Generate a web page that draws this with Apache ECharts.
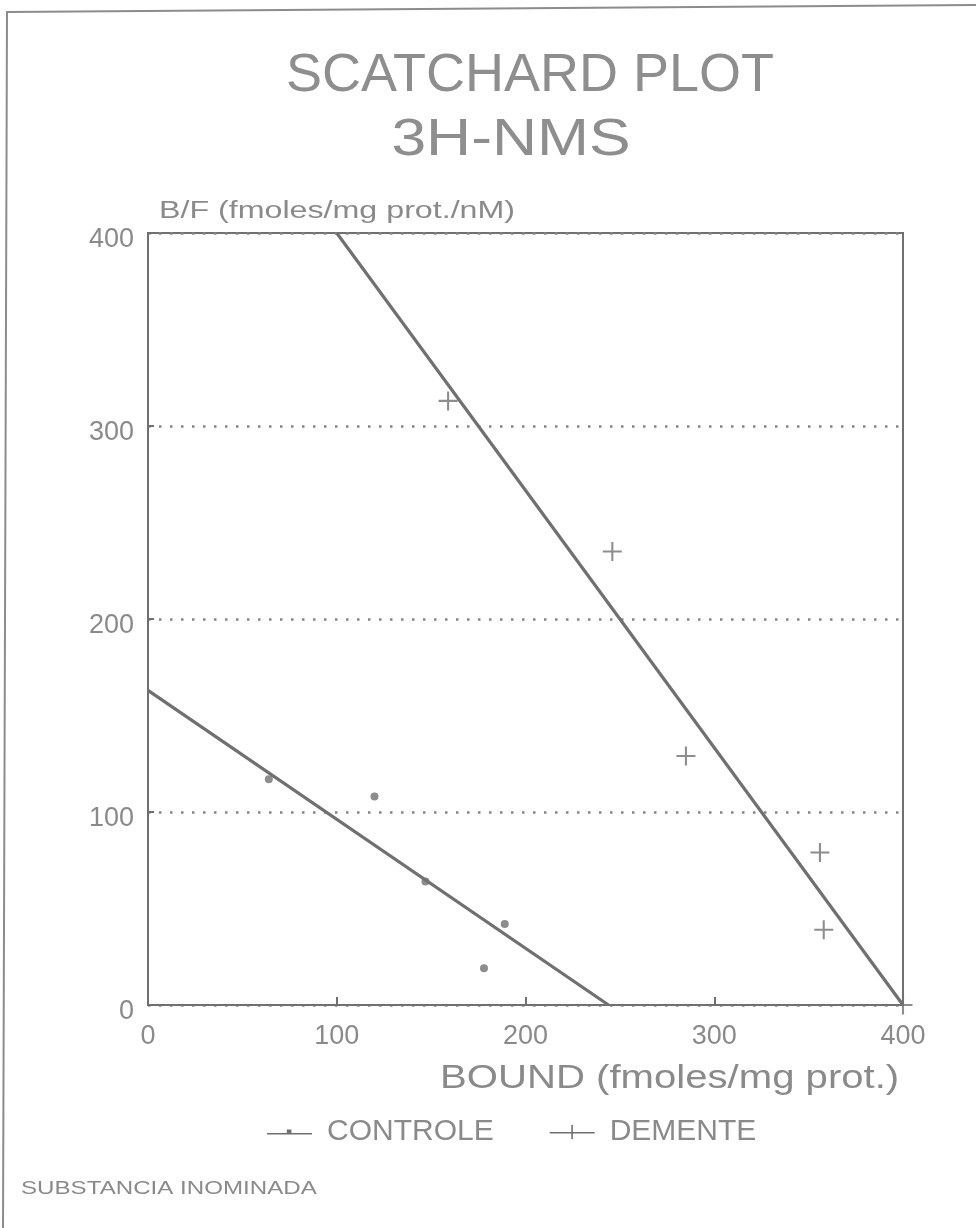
<!DOCTYPE html>
<html>
<head>
<meta charset="utf-8">
<script src="https://cdn.jsdelivr.net/npm/echarts@6/dist/echarts.min.js"></script>
<style>
  html, body { margin: 0; padding: 0; background: #ffffff; }
  #chart { width: 976px; height: 1228px; }
</style>
</head>
<body>
<div id="chart"></div>
<script>
// Scatchard data: bound (fmoles/mg prot.) vs B/F (fmoles/mg prot./nM)
const controlePoints = [[64, 117], [120, 108], [147, 64], [189, 42], [178, 19]];
const dementePoints = [[159, 313], [246, 235], [285, 129], [356, 79], [358, 39], [400, 0]];
// Regression lines (end points)
const controleFit = [[0, 163], [244, 0]];
const dementeFit = [[100, 400], [400, 0]];
// Axis ranges / ticks
const xTicks = [0, 100, 200, 300, 400];
const yTicks = [0, 100, 200, 300, 400];

const INK = '#707070';
const TEXT = '#8a8a8a';
const FONT = '"Liberation Sans", Arial, sans-serif';

const plusPath = 'path://M0,4.45h10v1.1h-10z M4.45,0h1.1v10h-1.1z';
const iconControle = 'path://M0,7h45v1.6h-45z M19.8,3.4h4.6v4.6h-4.6z';
const iconDemente = 'path://M0,7h45v1.6h-45z M21.6,0h1.6v14h-1.6z';

const chart = echarts.init(document.getElementById('chart'), null, { renderer: 'canvas' });

chart.setOption({
  backgroundColor: '#ffffff',
  animation: false,
  grid: {
    left: 148, right: 73, top: 233, bottom: 223,
    show: true, borderColor: INK, borderWidth: 2, backgroundColor: 'transparent'
  },
  xAxis: {
    type: 'value',
    min: xTicks[0], max: xTicks[xTicks.length - 1], interval: 100,
    axisLine: { show: true, lineStyle: { color: INK, width: 2 } },
    axisTick: { show: true, inside: true, length: 8, lineStyle: { color: INK, width: 2 } },
    axisLabel: { color: TEXT, fontFamily: FONT, fontSize: 27, margin: 18 },
    splitLine: { show: false }
  },
  yAxis: {
    type: 'value',
    min: yTicks[0], max: yTicks[yTicks.length - 1], interval: 100,
    axisLine: { show: true, lineStyle: { color: INK, width: 2 } },
    axisTick: { show: true, inside: true, length: 6, lineStyle: { color: INK, width: 2 } },
    axisLabel: {
      color: TEXT, fontFamily: FONT, fontSize: 27, margin: 14,
      formatter: '{v|{value}}',
      rich: { v: { color: TEXT, fontFamily: FONT, fontSize: 27, padding: [14, 0, 0, 0] } }
    },
    splitLine: { show: true, lineStyle: { color: '#858585', width: 2.5, type: [2.5, 8.5] } }
  },
  legend: {
    left: 262, top: 1112,
    itemWidth: 45, itemHeight: 14, itemGap: 56,
    textStyle: { color: TEXT, fontFamily: FONT, fontSize: 30, padding: [0, 0, 0, 10] },
    data: [
      { name: 'CONTROLE', icon: iconControle, itemStyle: { color: INK } },
      { name: 'DEMENTE', icon: iconDemente, itemStyle: { color: INK } }
    ]
  },
  graphic: [
    { type: 'polyline', silent: true,
      shape: { points: [[3, 1228], [7, 12], [976, 5]] },
      style: { stroke: '#8c8c8c', lineWidth: 2, fill: null } },
    { type: 'text', x: 530, y: 76, silent: true,
      style: { text: 'SCATCHARD PLOT', fill: '#8e8e8e', font: '54px ' + FONT, align: 'center', verticalAlign: 'middle' } },
    { type: 'text', x: 511, y: 141, scaleX: 1.2, silent: true,
      style: { text: '3H-NMS', fill: '#8e8e8e', font: '52px ' + FONT, align: 'center', verticalAlign: 'middle' } },
    { type: 'text', x: 159, y: 212, scaleX: 1.4, silent: true,
      style: { text: 'B/F (fmoles/mg prot./nM)', fill: TEXT, font: '23px ' + FONT, align: 'left', verticalAlign: 'middle' } },
    { type: 'text', x: 440, y: 1079, scaleX: 1.18, silent: true,
      style: { text: 'BOUND (fmoles/mg prot.)', fill: TEXT, font: '34px ' + FONT, align: 'left', verticalAlign: 'middle' } },
    { type: 'text', x: 21, y: 1189, scaleX: 1.27, silent: true,
      style: { text: 'SUBSTANCIA INOMINADA', fill: TEXT, font: '19px ' + FONT, align: 'left', verticalAlign: 'middle' } }
  ],
  series: [
    {
      name: 'CONTROLE', type: 'line', data: controleFit,
      showSymbol: false, symbol: 'none', silent: true,
      lineStyle: { color: INK, width: 3.2 }, z: 2
    },
    {
      name: 'DEMENTE', type: 'line', data: dementeFit,
      showSymbol: false, symbol: 'none', silent: true,
      lineStyle: { color: INK, width: 3.2 }, z: 2
    },
    {
      name: 'CONTROLE', type: 'scatter', data: controlePoints,
      symbol: 'circle', symbolSize: 8,
      itemStyle: { color: INK }, z: 3
    },
    {
      name: 'DEMENTE', type: 'scatter', data: dementePoints,
      symbol: plusPath, symbolSize: 19,
      itemStyle: { color: INK }, z: 3
    }
  ]
});
</script>
</body>
</html>
